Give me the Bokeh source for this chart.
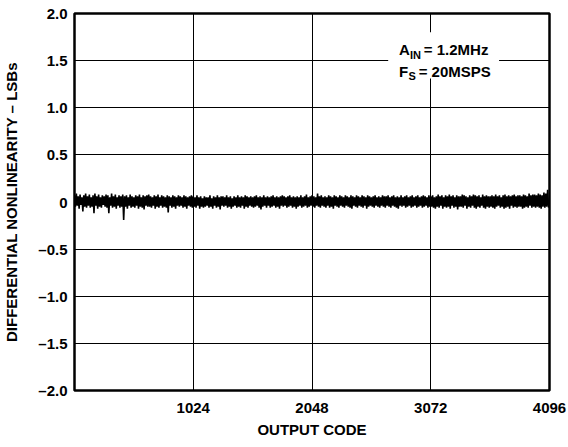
import numpy as np
from bokeh.plotting import figure
from bokeh.models import FixedTicker, Label, BoxAnnotation, ColumnDataSource
from bokeh.embed import file_html
from bokeh.resources import INLINE

# ---- data (DNL, one value every 8 codes) ----
code_step = 8
dnl_values = [
    0.07,-0.05,0.09,-0.04,0.06,-0.07,0.08,-0.03,0.05,-0.10,0.07,-0.05,0.09,-0.06,0.06,-0.04,
    0.08,-0.06,0.05,-0.05,0.07,-0.12,0.09,-0.04,0.06,-0.07,0.08,-0.05,0.05,-0.06,0.07,-0.03,
    0.06,-0.05,0.08,-0.06,0.07,-0.12,0.05,-0.04,0.09,-0.06,0.06,-0.05,0.08,-0.07,0.05,-0.04,
    0.07,-0.06,0.06,-0.05,0.08,-0.19,0.06,-0.05,0.07,-0.07,0.05,-0.04,0.08,-0.06,0.06,-0.05,
    0.05,-0.06,0.07,-0.04,0.06,-0.07,0.08,-0.05,0.05,-0.06,0.07,-0.08,0.06,-0.04,0.07,-0.05,
    0.08,-0.05,0.06,-0.06,0.05,-0.04,0.07,-0.07,0.06,-0.05,0.08,-0.06,0.05,-0.04,0.07,-0.06,
    0.06,-0.05,0.05,-0.06,0.07,-0.11,0.06,-0.04,0.05,-0.06,0.07,-0.05,0.06,-0.07,0.05,-0.04,
    0.07,-0.05,0.06,-0.04,0.05,-0.06,0.07,-0.05,0.06,-0.07,0.05,-0.04,0.06,-0.05,0.07,-0.06,
    0.06,-0.05,0.05,-0.06,0.07,-0.04,0.05,-0.07,0.06,-0.05,0.04,-0.06,0.06,-0.05,0.05,-0.04,
    0.05,-0.06,0.07,-0.05,0.04,-0.07,0.06,-0.04,0.05,-0.06,0.07,-0.05,0.05,-0.08,0.06,-0.04,
    0.06,-0.05,0.05,-0.04,0.07,-0.06,0.05,-0.05,0.06,-0.07,0.04,-0.05,0.06,-0.04,0.05,-0.06,
    0.07,-0.05,0.05,-0.06,0.06,-0.04,0.05,-0.07,0.07,-0.05,0.06,-0.06,0.05,-0.04,0.06,-0.05,
    0.05,-0.06,0.06,-0.05,0.07,-0.04,0.05,-0.06,0.06,-0.08,0.05,-0.05,0.07,-0.04,0.05,-0.06,
    0.06,-0.04,0.05,-0.06,0.06,-0.05,0.07,-0.04,0.05,-0.06,0.06,-0.05,0.05,-0.07,0.06,-0.04,
    0.07,-0.05,0.06,-0.04,0.05,-0.06,0.06,-0.05,0.07,-0.04,0.05,-0.06,0.06,-0.05,0.05,-0.07,
    0.06,-0.05,0.05,-0.04,0.07,-0.06,0.05,-0.05,0.06,-0.04,0.08,-0.06,0.05,-0.05,0.06,-0.04,
    0.07,-0.05,0.06,-0.06,0.05,-0.04,0.09,-0.05,0.06,-0.06,0.07,-0.04,0.05,-0.05,0.06,-0.06,
    0.05,-0.04,0.07,-0.06,0.06,-0.05,0.05,-0.07,0.07,-0.04,0.06,-0.05,0.05,-0.06,0.07,-0.04,
    0.06,-0.05,0.05,-0.06,0.07,-0.04,0.06,-0.05,0.05,-0.06,0.07,-0.07,0.06,-0.04,0.05,-0.05,
    0.07,-0.06,0.06,-0.04,0.05,-0.05,0.07,-0.06,0.06,-0.04,0.05,-0.07,0.07,-0.05,0.06,-0.04,
    0.05,-0.05,0.06,-0.06,0.07,-0.04,0.05,-0.05,0.06,-0.06,0.05,-0.04,0.07,-0.05,0.06,-0.06,
    0.06,-0.04,0.07,-0.05,0.05,-0.06,0.06,-0.04,0.07,-0.05,0.05,-0.06,0.06,-0.07,0.05,-0.04,
    0.07,-0.05,0.05,-0.04,0.06,-0.06,0.07,-0.05,0.05,-0.04,0.06,-0.06,0.07,-0.05,0.05,-0.04,
    0.06,-0.06,0.07,-0.05,0.05,-0.04,0.06,-0.06,0.07,-0.05,0.06,-0.04,0.05,-0.06,0.07,-0.05,
    0.06,-0.05,0.07,-0.06,0.05,-0.07,0.06,-0.05,0.08,-0.06,0.06,-0.04,0.07,-0.07,0.05,-0.05,
    0.07,-0.06,0.06,-0.05,0.08,-0.07,0.06,-0.04,0.07,-0.06,0.05,-0.05,0.07,-0.08,0.06,-0.05,
    0.06,-0.05,0.08,-0.06,0.07,-0.04,0.06,-0.07,0.05,-0.05,0.07,-0.06,0.06,-0.04,0.08,-0.06,
    0.07,-0.07,0.06,-0.05,0.07,-0.06,0.05,-0.04,0.08,-0.06,0.06,-0.07,0.07,-0.05,0.06,-0.06,
    0.06,-0.05,0.07,-0.06,0.06,-0.07,0.08,-0.05,0.06,-0.04,0.07,-0.06,0.05,-0.05,0.07,-0.07,
    0.08,-0.06,0.06,-0.05,0.07,-0.07,0.06,-0.04,0.07,-0.06,0.08,-0.05,0.06,-0.06,0.07,-0.05,
    0.07,-0.05,0.06,-0.07,0.08,-0.06,0.07,-0.05,0.06,-0.06,0.09,-0.04,0.07,-0.06,0.08,-0.05,
    0.08,-0.06,0.07,-0.05,0.09,-0.06,0.08,-0.07,0.07,-0.05,0.10,-0.06,0.09,-0.05,0.13,-0.06,
]
output_codes = [i * code_step for i in range(len(dnl_values))]

x_ticks = [1024, 2048, 3072, 4096]
y_ticks = [-2.0, -1.5, -1.0, -0.5, 0.0, 0.5, 1.0, 1.5, 2.0]
y_tick_labels = ["\u20132.0", "\u20131.5", "\u20131.0", "\u20130.5", "0", "0.5", "1.0", "1.5", "2.0"]

x_title = "OUTPUT CODE"
y_title = "DIFFERENTIAL NONLINEARITY \u2013 LSBs"

FONT = "Liberation Sans"

p = figure(width=568, height=447, output_backend="svg", toolbar_location=None,
           x_range=(0, 4096), y_range=(-2, 2),
           min_border_left=69, min_border_right=19, min_border_top=13, min_border_bottom=57)
p.background_fill_color = "white"
p.border_fill_color = "white"
p.outline_line_color = "black"
p.outline_line_width = 2.5

src = ColumnDataSource(dict(x=output_codes, y=dnl_values))
p.line("x", "y", source=src, line_color="black", line_width=1.6)

# axes
p.xaxis.ticker = FixedTicker(ticks=x_ticks)
p.yaxis.ticker = FixedTicker(ticks=y_ticks)
p.yaxis.major_label_overrides = dict(zip(y_ticks, y_tick_labels))
for ax in (p.xaxis[0], p.yaxis[0]):
    ax.axis_line_color = None
    ax.major_tick_line_color = None
    ax.minor_tick_line_color = None
    ax.major_tick_out = 0
    ax.major_tick_in = 0
    ax.major_label_text_font = FONT
    ax.major_label_text_font_style = "bold"
    ax.major_label_text_font_size = "15px"
    ax.major_label_text_color = "black"
    ax.axis_label_text_font = FONT
    ax.axis_label_text_font_style = "bold"
    ax.axis_label_text_font_size = "15px"
    ax.axis_label_text_color = "black"

p.xaxis.axis_label = x_title
p.yaxis.axis_label = y_title
p.xaxis.major_label_standoff = 12
p.xaxis.axis_label_standoff = 5
p.yaxis.major_label_standoff = 7
p.yaxis.axis_label_standoff = 15

p.xgrid.ticker = FixedTicker(ticks=x_ticks)
p.ygrid.ticker = FixedTicker(ticks=y_ticks)
for g in (p.xgrid[0], p.ygrid[0]):
    g.grid_line_color = "black"
    g.grid_line_width = 1
    g.grid_line_alpha = 1.0

# annotation box (white background) and conditions text
p.add_layout(BoxAnnotation(left=2705, right=3661, bottom=1.31, top=1.80,
                           fill_color="white", fill_alpha=1.0, line_color=None))

def lab(x, y, t, size):
    p.add_layout(Label(x=x, y=y, text=t, text_font=FONT, text_font_style="bold",
                       text_font_size=size, text_color="black",
                       text_baseline="alphabetic", text_align="left"))

lab(2799, 1.615, "A", "15px")
lab(2893, 1.560, "IN", "11px")
lab(3012, 1.615, "= 1.2MHz", "15px")
lab(2799, 1.388, "F", "15px")
lab(2880, 1.333, "S", "11px")
lab(2968, 1.388, "= 20MSPS", "15px")

open("out.html", "w").write(file_html(p, INLINE))
